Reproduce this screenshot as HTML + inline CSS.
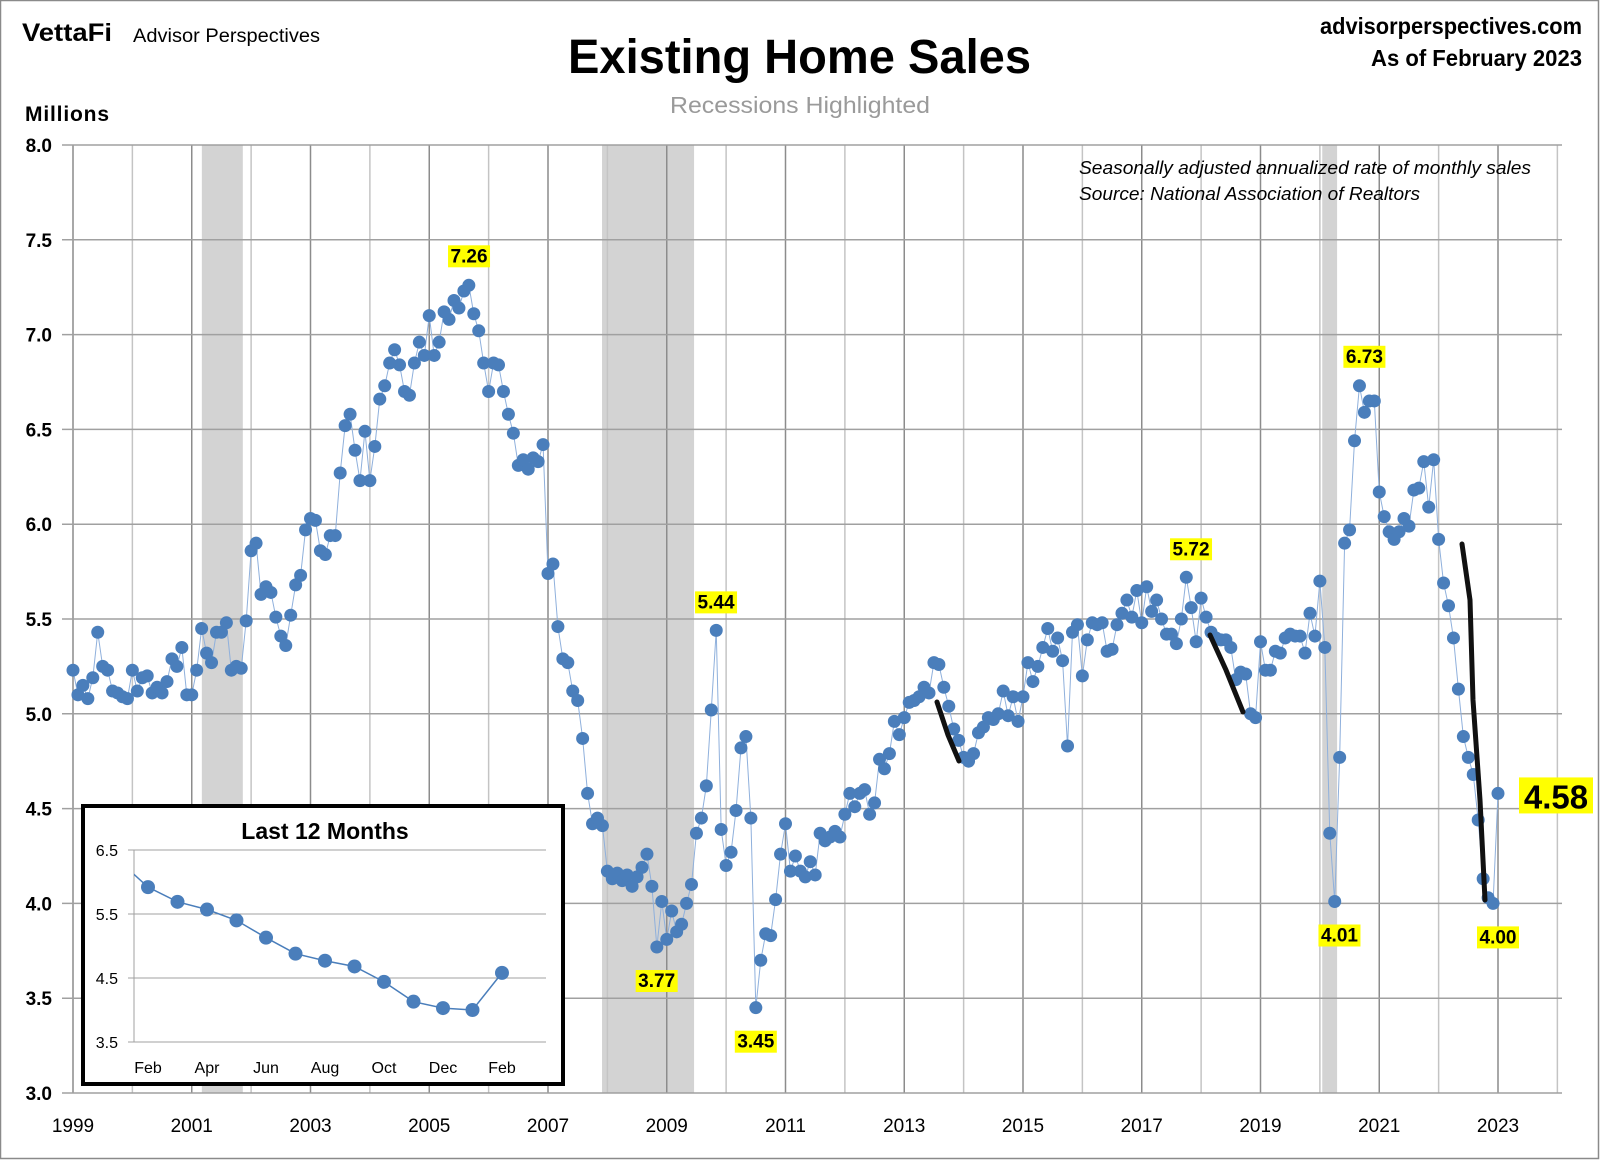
<!DOCTYPE html>
<html><head><meta charset="utf-8"><style>
html,body{margin:0;padding:0;background:#fff;}
svg{display:block;font-family:"Liberation Sans",sans-serif;}
</style></head><body>
<svg id="chart" width="1600" height="1160" viewBox="0 0 1600 1160" xmlns="http://www.w3.org/2000/svg">
<rect x="0.5" y="0.5" width="1598" height="1158" fill="#fff" stroke="#8a8a8a" stroke-width="1.5"/>
<text x="22" y="41" font-size="25" font-weight="bold" textLength="90" lengthAdjust="spacingAndGlyphs">VettaFi</text>
<text x="133" y="42" font-size="19" textLength="187" lengthAdjust="spacingAndGlyphs">Advisor Perspectives</text>
<text x="568" y="73" font-size="48" font-weight="bold" textLength="463" lengthAdjust="spacingAndGlyphs">Existing Home Sales</text>
<text x="670" y="113" font-size="23" fill="#9a9a9a" textLength="260" lengthAdjust="spacingAndGlyphs">Recessions Highlighted</text>
<text x="1582" y="34" font-size="23" font-weight="bold" text-anchor="end" textLength="262" lengthAdjust="spacingAndGlyphs">advisorperspectives.com</text>
<text x="1582" y="66" font-size="23" font-weight="bold" text-anchor="end" textLength="211" lengthAdjust="spacingAndGlyphs">As of February 2023</text>
<text x="25" y="121" font-size="21" font-weight="bold" textLength="84">Millions</text>
<g id="plot"></g>
<text x="1079" y="174" font-size="18" font-style="italic" textLength="452" lengthAdjust="spacingAndGlyphs">Seasonally adjusted annualized rate of monthly sales</text>
<text x="1079" y="200" font-size="18" font-style="italic" textLength="341" lengthAdjust="spacingAndGlyphs">Source: National Association of Realtors</text>
<g id="inset"></g>
</svg>
<script>
const years = [1999,2001,2003,2005,2007,2009,2011,2013,2015,2017,2019,2021,2023];
const yTicks = [3.0,3.5,4.0,4.5,5.0,5.5,6.0,6.5,7.0,7.5,8.0];
const startYear = 1999;
const sales = [
5.23,5.10,5.15,5.08,5.19,5.43,5.25,5.23,5.12,5.11,5.09,5.08,
5.23,5.12,5.19,5.20,5.11,5.14,5.11,5.17,5.29,5.25,5.35,5.10,
5.10,5.23,5.45,5.32,5.27,5.43,5.43,5.48,5.23,5.25,5.24,5.49,
5.86,5.90,5.63,5.67,5.64,5.51,5.41,5.36,5.52,5.68,5.73,5.97,
6.03,6.02,5.86,5.84,5.94,5.94,6.27,6.52,6.58,6.39,6.23,6.49,
6.23,6.41,6.66,6.73,6.85,6.92,6.84,6.70,6.68,6.85,6.96,6.89,
7.10,6.89,6.96,7.12,7.08,7.18,7.14,7.23,7.26,7.11,7.02,6.85,
6.70,6.85,6.84,6.70,6.58,6.48,6.31,6.34,6.29,6.35,6.33,6.42,
5.74,5.79,5.46,5.29,5.27,5.12,5.07,4.87,4.58,4.42,4.45,4.41,
4.17,4.13,4.16,4.12,4.15,4.09,4.14,4.19,4.26,4.09,3.77,4.01,
3.81,3.96,3.85,3.89,4.00,4.10,4.37,4.45,4.62,5.02,5.44,4.39,
4.20,4.27,4.49,4.82,4.88,4.45,3.45,3.70,3.84,3.83,4.02,4.26,
4.42,4.17,4.25,4.17,4.14,4.22,4.15,4.37,4.33,4.35,4.38,4.35,
4.47,4.58,4.51,4.58,4.60,4.47,4.53,4.76,4.71,4.79,4.96,4.89,
4.98,5.06,5.07,5.09,5.14,5.11,5.27,5.26,5.14,5.04,4.92,4.86,
4.77,4.75,4.79,4.90,4.93,4.98,4.97,5.00,5.12,4.99,5.09,4.96,
5.09,5.27,5.17,5.25,5.35,5.45,5.33,5.40,5.28,4.83,5.43,5.47,
5.20,5.39,5.48,5.47,5.48,5.33,5.34,5.47,5.53,5.60,5.51,5.65,
5.48,5.67,5.54,5.60,5.50,5.42,5.42,5.37,5.50,5.72,5.56,5.38,
5.61,5.51,5.43,5.40,5.39,5.39,5.35,5.18,5.22,5.21,5.00,4.98,
5.38,5.23,5.23,5.33,5.32,5.40,5.42,5.41,5.41,5.32,5.53,5.41,
5.70,5.35,4.37,4.01,4.77,5.90,5.97,6.44,6.73,6.59,6.65,6.65,
6.17,6.04,5.96,5.92,5.96,6.03,5.99,6.18,6.19,6.33,6.09,6.34,
5.92,5.69,5.57,5.40,5.13,4.88,4.77,4.68,4.44,4.13,4.03,4.00,
4.58
];
const recessions = [[2001.17,2001.86],[2007.91,2009.46],[2020.04,2020.29]];
const callouts = [["7.26",2005.67,7.26,-23],["6.73",2020.75,6.73,-23],["5.72",2017.83,5.72,-22],["5.44",2009.83,5.44,-22],["3.77",2008.83,3.77,40],["3.45",2010.5,3.45,40],["4.01",2020.33,4.01,40],["4.00",2023.0,4.00,40]];
const insetLabels = ["Feb","Apr","Jun","Aug","Oct","Dec","Feb"];
const insetTicks = [3.5,4.5,5.5,6.5];
const insetCount = 14;

const NS="http://www.w3.org/2000/svg";
function mk(tag,attrs,parent){const e=document.createElementNS(NS,tag);for(const k in attrs)e.setAttribute(k,attrs[k]);parent.appendChild(e);return e;}
const X0=73, PX=59.375, Y0=1093, PY=189.6;
const xs=t=>X0+(t-startYear)*PX;
const ys=v=>Y0-(v-3)*PY;
const plot=document.getElementById('plot');

recessions.forEach(r=>{
 const e=mk('rect',{x:xs(r[0]),y:ys(8),width:xs(r[1])-xs(r[0]),height:ys(3)-ys(8),fill:'#d3d3d3'},plot);
 
 
});
for(let yr=1999;yr<=2024;yr++){
 const e=mk('line',{x1:xs(yr),x2:xs(yr),y1:ys(8),y2:ys(3),stroke:(yr%2?'#8c8c8c':'#c4c4c4'),'stroke-width':1.5},plot);
 
 
}
yTicks.forEach(v=>{
 const l=mk('line',{x1:62,x2:1562,y1:ys(v),y2:ys(v),stroke:'#a0a0a0','stroke-width':1.5},plot);
 
 
 const t=mk('text',{x:52,y:ys(v)+7,'font-size':19,'font-weight':'bold','text-anchor':'end'},plot);
 t.textContent=v.toFixed(1);
 
 
});
years.forEach(yr=>{
 const t=mk('text',{x:xs(yr),y:1132,'font-size':19,'text-anchor':'middle'},plot);
 t.textContent=String(yr);
 
 
});
const pts=sales.map((v,i)=>[xs(startYear+i/12),ys(v)]);
const line=mk('polyline',{points:pts.map(p=>p.join(',')).join(' '),fill:'none',stroke:'#8fb0dc','stroke-width':1},plot);


pts.forEach(p=>{
 const c=mk('circle',{cx:p[0],cy:p[1],r:6.5,fill:'#4a7ebb'},plot);
 
 
});
[[[937,702],[948,735],[959,761]],[[1210,635],[1226,670],[1243,712]],[[1462,544],[1470,600],[1473,700],[1480,800],[1485,900]]].forEach(s=>{
 const p=mk('polyline',{points:s.map(q=>q.join(',')).join(' '),fill:'none',stroke:'#111','stroke-width':5,'stroke-linecap':'round'},plot);
 
 
});
callouts.forEach(c=>{
 const cx=xs(c[1]), cy=ys(c[2])+c[3];
 const r=mk('rect',{x:cx-21,y:cy-17,width:42,height:22,fill:'#ffff00'},plot);
 
 
 const t=mk('text',{x:cx,y:cy,'font-size':19,'font-weight':'bold','text-anchor':'middle'},plot);
 t.textContent=c[0];
 
 
});
{
 const v=sales[sales.length-1];
 const r=mk('rect',{x:1519,y:ys(v)-16,width:74,height:36,fill:'#ffff00'},plot);
 
 
 const t=mk('text',{x:1556,y:ys(v)+15,'font-size':33,'font-weight':'bold','text-anchor':'middle'},plot);
 t.textContent=v.toFixed(2);
 
 
}
const inset=document.getElementById('inset');
const bx=mk('rect',{x:83,y:806,width:480,height:278,fill:'#fff',stroke:'#000','stroke-width':4},inset);


const it=mk('text',{x:325,y:839,'font-size':23,'font-weight':'bold','text-anchor':'middle'},inset);
it.textContent='Last 12 Months';


const IX0=148, IPX=29.5, IL=134, IR=546;
const iys=v=>1042-(v-3.5)*64;
const ixs=i=>IX0+(i-1)*IPX;
insetTicks.forEach(v=>{
 const l=mk('line',{x1:IL-6,x2:IR,y1:iys(v),y2:iys(v),stroke:'#a0a0a0','stroke-width':1},inset);
 
 
 const t=mk('text',{x:IL-16,y:iys(v)+6,'font-size':16,'text-anchor':'end'},inset);
 t.textContent=v.toFixed(1);
 
 
});
const ax=mk('line',{x1:IL,x2:IL,y1:iys(6.5),y2:iys(3.5),stroke:'#a0a0a0','stroke-width':1},inset);


insetLabels.forEach((s,k)=>{
 const t=mk('text',{x:ixs(1+2*k),y:1073,'font-size':16,'text-anchor':'middle'},inset);
 t.textContent=s;
 
 
});
const last=sales.slice(-insetCount);
const cp=mk('clipPath',{id:'iclip'},inset);
mk('rect',{x:IL,y:840,width:IR-IL,height:210},cp);
const ipts=last.map((v,i)=>[ixs(i),iys(v)]);
const il=mk('polyline',{points:ipts.map(p=>p.join(',')).join(' '),fill:'none',stroke:'#4a7ebb','stroke-width':1.5,'clip-path':'url(#iclip)'},inset);


ipts.slice(1).forEach(p=>{
 const c=mk('circle',{cx:p[0],cy:p[1],r:7,fill:'#4a7ebb'},inset);
 
 
});
</script>
</body></html>
